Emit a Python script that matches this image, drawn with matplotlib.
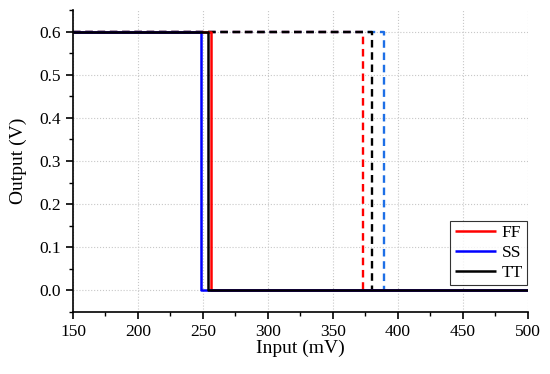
import numpy as np
import matplotlib.pyplot as plt

plt.rcParams['font.family'] = ['Liberation Serif', 'DejaVu Serif']

# Corners (mV): falling edge (solid) and rising edge (dashed)
corners = ['FF', 'SS', 'TT']
fall_mv = [256.5, 248.5, 254.0]
rise_mv = [373.0, 389.0, 380.0]
v_high = 0.6
v_low = 0.0
x_start = 150
x_end = 500

solid_colors = ['#FF0000', '#0000FF', '#000000']
dash_colors = ['#FF0000', '#1E6FE6', '#000000']

fig = plt.figure(figsize=(5.5, 3.74), dpi=100)
ax = fig.add_axes([0.1327, 0.166, 0.8273, 0.807])

# dashed (rising) traces first, same dash phase so TT covers the others
for name, xr, c in zip(corners, rise_mv, dash_colors):
    ax.plot([x_start, xr, xr], [v_high, v_high, v_low], color=c, linewidth=1.7,
            dashes=(3.2, 2.0))

# solid (falling) traces
for name, xf, c in zip(corners, fall_mv, solid_colors):
    ax.plot([x_start, xf, xf, x_end], [v_high, v_high, v_low, v_low],
            color=c, linewidth=1.8, label=name, solid_capstyle='butt')

ax.set_xlim(150, 500)
ax.set_ylim(-0.05, 0.65)
ax.set_xticks(np.arange(150, 501, 50))
ax.set_xticks(np.arange(150, 501, 25), minor=True)
ax.set_yticks(np.arange(0, 0.61, 0.1))
ax.set_yticks(np.arange(-0.05, 0.651, 0.05), minor=True)
ax.set_yticklabels(['%.1f' % v for v in np.arange(0, 0.61, 0.1)])

ax.spines['top'].set_visible(False)
ax.spines['right'].set_visible(False)
ax.spines['left'].set_linewidth(1.2)
ax.spines['bottom'].set_linewidth(1.2)
ax.tick_params(which='major', direction='out', length=5, width=1.2, labelsize=12.5)
ax.tick_params(which='minor', direction='out', length=3, width=1.0)
ax.grid(True, which='major', linestyle=':', color='#C8C8C8', linewidth=0.8)

ax.set_xlabel('Input (mV)', fontsize=14, labelpad=0)
ax.set_ylabel('Output (V)', fontsize=14, labelpad=9)

leg = ax.legend(loc='lower right', bbox_to_anchor=(0.998, 0.088), fontsize=12.5,
                frameon=True, fancybox=False, edgecolor='black',
                handlelength=2.4, handletextpad=0.3, borderpad=0.25,
                labelspacing=0.22, borderaxespad=0.0)
leg.get_frame().set_linewidth(0.8)

fig.savefig('out.png', dpi=100)
